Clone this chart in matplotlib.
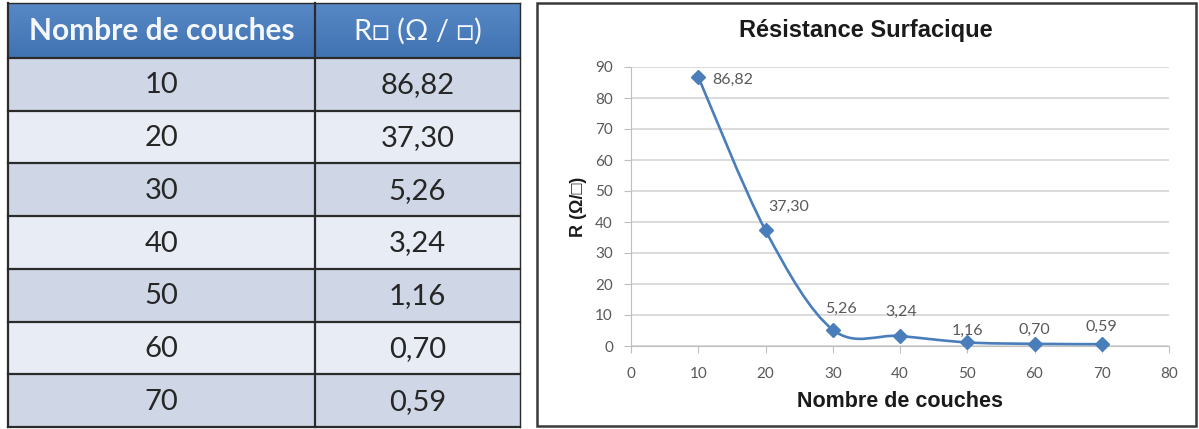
import numpy as np
import matplotlib.pyplot as plt
from matplotlib.patches import Rectangle
from matplotlib.path import Path
from matplotlib.patches import PathPatch

couches = [10, 20, 30, 40, 50, 60, 70]
resistance = [86.82, 37.30, 5.26, 3.24, 1.16, 0.70, 0.59]
labels = ['86,82', '37,30', '5,26', '3,24', '1,16', '0,70', '0,59']
headers = ['Nombre de couches', 'R\u25a1 (\u03a9 / \u25a1)']

# label offsets in pixels (x, y) and alignment, as placed in the original
label_offsets = [(14, -3, 'left'), (3, 23, 'left'), (8, 21, 'center'),
                 (1, 24, 'center'), (0, 12, 'center'), (0, 14, 'center'),
                 (0, 17, 'center')]

W, H = 1199, 429
blue = '#4A7EBB'

fig = plt.figure(figsize=(W / 100, H / 100), dpi=100)
fig.patch.set_facecolor('white')

# --- table drawn in pixel coordinates ---
bg = fig.add_axes([0, 0, 1, 1])
bg.set_xlim(0, W)
bg.set_ylim(H, 0)
bg.axis('off')

x0, xm, x1 = 8, 315, 520
y_head0, y_head1, y_end = 3, 58, 427
row_h = (y_end - y_head1) / len(couches)

# header with a slight vertical gradient
grad = np.linspace(0, 1, 50).reshape(-1, 1)
top_c = np.array([0x58, 0x88, 0xC6]) / 255
bot_c = np.array([0x40, 0x73, 0xB2]) / 255
img = top_c[None, None, :] * (1 - grad[..., None]) + bot_c[None, None, :] * grad[..., None]
bg.imshow(img, extent=(x0, x1, y_head1, y_head0), aspect='auto', zorder=1)
bg.set_xlim(0, W)
bg.set_ylim(H, 0)

bg.text((x0 + xm) / 2, (y_head0 + y_head1) / 2 + 1, headers[0], color='#F4F7FC',
        fontsize=21.5, fontweight='bold', family='Lato', ha='center', va='center', zorder=3)
bg.text((xm + x1) / 2, (y_head0 + y_head1) / 2 + 1, headers[1], color='#F4F7FC',
        fontsize=21, family=['Lato', 'DejaVu Sans'], ha='center', va='center', zorder=3)

for i, (c, lab) in enumerate(zip(couches, labels)):
    top = y_head1 + i * row_h
    fc = '#CFD7E6' if i % 2 == 0 else '#E8ECF4'
    bg.add_patch(Rectangle((x0, top), x1 - x0, row_h, facecolor=fc, edgecolor='none'))
    bg.text((x0 + xm) / 2, top + row_h / 2 + 1, str(c), fontsize=21, family='Lato',
            color='#262626', ha='center', va='center')
    bg.text((xm + x1) / 2, top + row_h / 2 + 1, lab, fontsize=21, family='Lato',
            color='#262626', ha='center', va='center')

# grid lines of the table
for i in range(len(couches) + 1):
    y = y_head1 + i * row_h
    bg.plot([x0, x1], [y, y], color='#2B2B2B', lw=1.6, zorder=2)
bg.plot([x0, x0], [y_head0, y_end], color='#2B2B2B', lw=1.6, zorder=2)
bg.plot([xm, xm], [y_head0, y_end], color='#2B2B2B', lw=1.6, zorder=2)
bg.plot([x1, x1], [y_head0, y_end], color='#2B2B2B', lw=1.0, zorder=2)
bg.plot([x0, x1], [y_head0, y_head0], color='#2B2B2B', lw=1.0, zorder=2)

# chart frame
bg.add_patch(Rectangle((537, 3), 659, 423, facecolor='white',
                       edgecolor='#3A3A3A', lw=1.8))
bg.text(866, 31, 'Résistance Surfacique', fontsize=17, fontweight='bold',
        family='Liberation Sans', color='#1A1A1A', ha='center', va='center')

# --- chart ---
px_l, px_r, py_t, py_b = 631, 1169, 67, 346
ax = fig.add_axes([px_l / W, 1 - py_b / H, (px_r - px_l) / W, (py_b - py_t) / H])
ax.set_xlim(0, 80)
ax.set_ylim(0, 90)
ax.set_xticks(range(0, 81, 10))
ax.set_yticks(range(0, 91, 10))
ax.grid(axis='y', color='#D4D4D4', lw=1.2)
ax.set_axisbelow(True)
for s in ['top', 'right']:
    ax.spines[s].set_visible(False)
ax.spines['left'].set_color('#BFBFBF')
ax.spines['bottom'].set_color('#BFBFBF')
ax.tick_params(axis='y', direction='out', length=5, color='#BFBFBF', pad=8,
               labelsize=11, labelcolor='#595959')
ax.tick_params(axis='x', direction='out', length=5, color='#BFBFBF', pad=10,
               labelsize=11, labelcolor='#595959')
for t in ax.get_xticklabels() + ax.get_yticklabels():
    t.set_family('Lato')

# smoothed line (Excel-style bezier through the points)
pts = np.column_stack([couches, resistance]).astype(float)
n = len(pts)
verts = [pts[0]]
codes = [Path.MOVETO]
for i in range(n - 1):
    p_prev = pts[i - 1] if i > 0 else pts[i]
    p_next2 = pts[i + 2] if i + 2 < n else pts[i + 1]
    c1 = pts[i] + (pts[i + 1] - p_prev) / 6
    c2 = pts[i + 1] - (p_next2 - pts[i]) / 6
    verts += [c1, c2, pts[i + 1]]
    codes += [Path.CURVE4] * 3
ax.add_patch(PathPatch(Path(verts, codes), facecolor='none', edgecolor=blue,
                       lw=1.9, clip_on=False))
ax.plot(couches, resistance, linestyle='none', marker='D', markersize=7,
        color=blue, clip_on=False, zorder=3)

for xv, yv, lab, (dx, dy, ha) in zip(couches, resistance, labels, label_offsets):
    ax.annotate(lab, (xv, yv), xytext=(dx, dy), textcoords='offset pixels',
                ha=ha, va='center', fontsize=11.5, family='Lato', color='#595959')

ax.set_xlabel('Nombre de couches', fontsize=15.5, fontweight='bold',
              family='Liberation Sans', color='#1A1A1A', labelpad=7)
ax.set_ylabel('R (\u03a9/\u25a1)', fontsize=13, fontweight='bold',
              family=['Liberation Sans', 'DejaVu Sans'], color='#1A1A1A', labelpad=6)

fig.savefig('out.png', dpi=100)
